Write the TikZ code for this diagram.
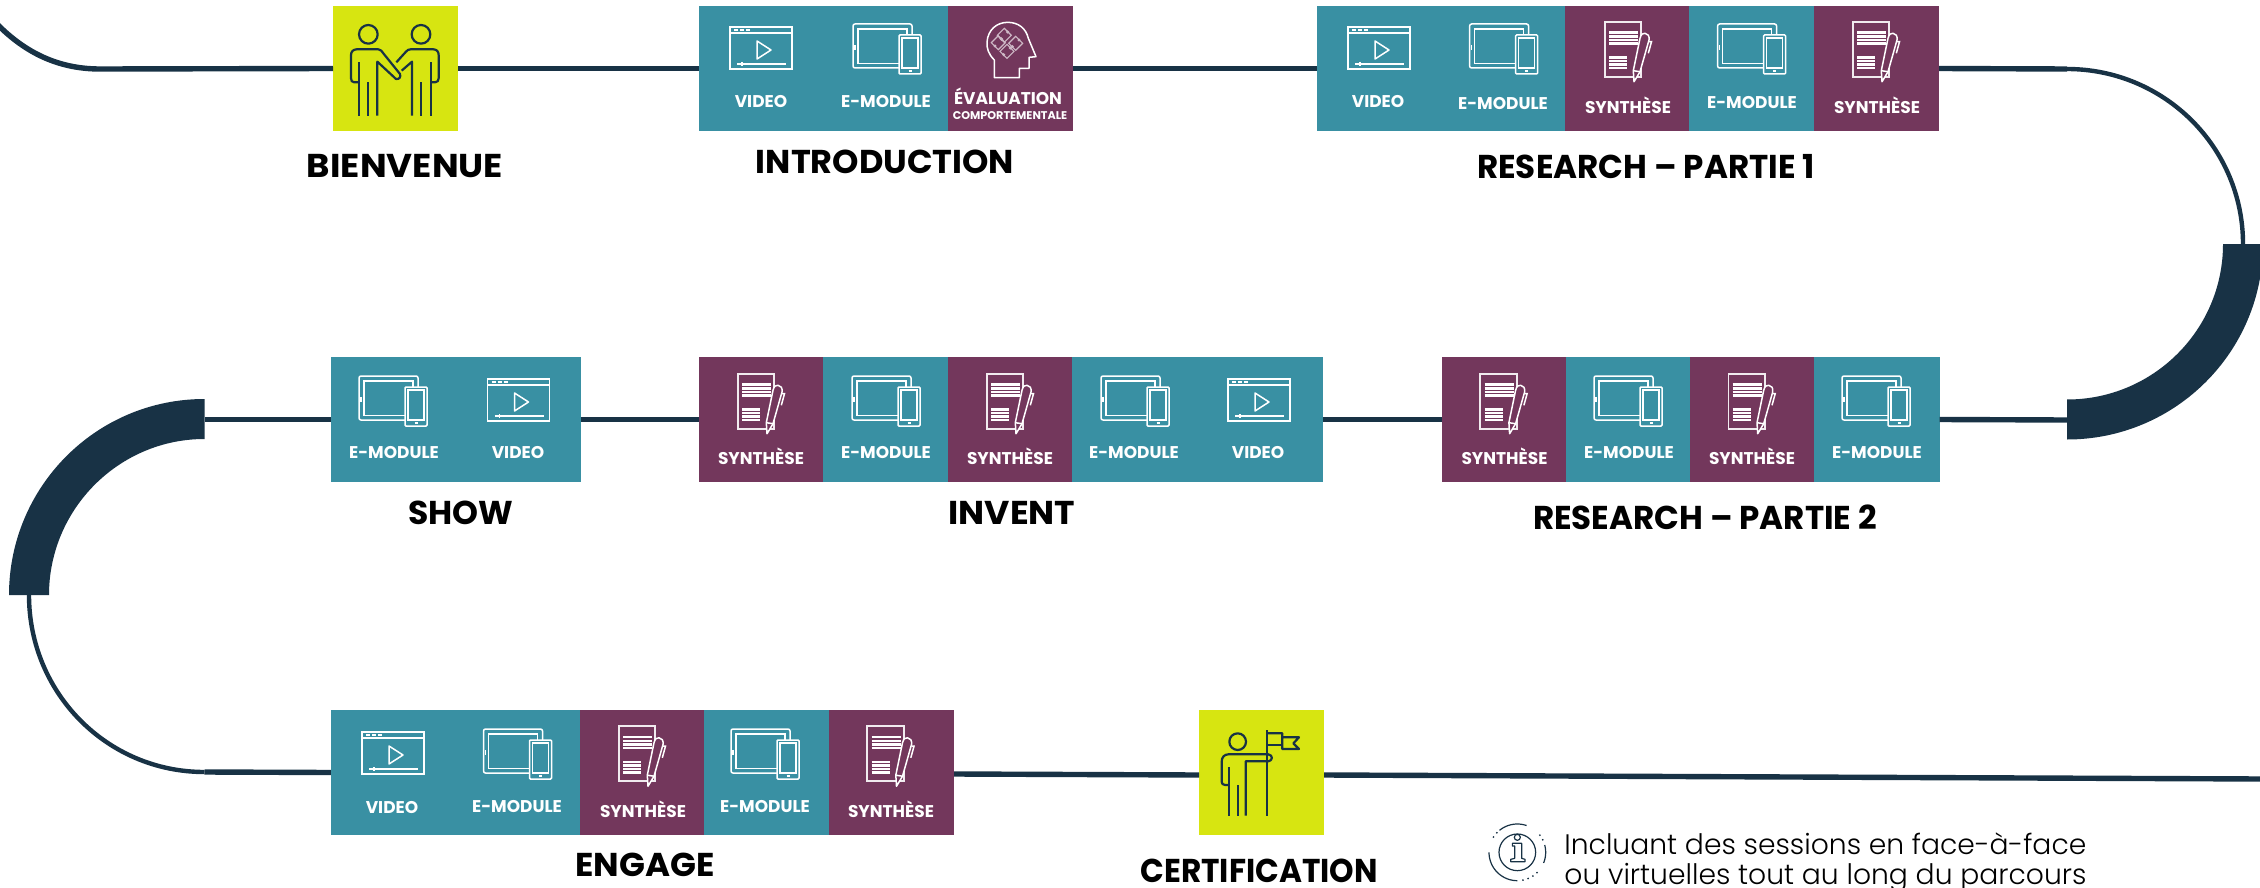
\documentclass[tikz,border=0pt]{standalone}
\usepackage{fontspec}
\setmainfont{Poppins}
\newfontfamily\lightf{Poppins}[UprightFont=* Light]
\newfontfamily\boldf{Poppins}[UprightFont=* Bold]
\definecolor{tealc}{RGB}{57,144,163}
\definecolor{purpc}{RGB}{115,55,92}
\definecolor{limec}{RGB}{215,229,17}
\definecolor{navyc}{RGB}{24,50,69}
\tikzset{
  x=0.5pt,y=-0.5pt,
  cellbase/.style={inner sep=0pt,outer sep=0pt,minimum width=62.7pt,minimum height=62.5pt},
  cellteal/.style={cellbase,fill=tealc},
  cellpurp/.style={cellbase,fill=purpc},
  celllime/.style={cellbase,fill=limec,minimum width=62.5pt},
  trunk/.style={draw=navyc,line width=2.7pt},
  trunkthin/.style={draw=navyc,line width=2.2pt},
  wline/.style={draw=white,line width=0.75pt},
  nline/.style={draw=navyc,line width=1.1pt,line join=round},
  smalllab/.style={text=white,inner sep=0pt,font=\boldf\fontsize{8.5}{10}\selectfont},
  tinylab/.style={text=white,inner sep=0pt,font=\boldf\fontsize{5.6}{7}\selectfont},
  titlelab/.style={text=black,inner sep=0pt,font=\boldf\fontsize{16.5}{20}\selectfont},
  infolab/.style={text=black,inner sep=0pt,anchor=west,font=\lightf\fontsize{14.1}{16}\selectfont},
  vidicon/.pic={
    \draw[wline] (-31,-21) rectangle (31,21);
    \draw[wline] (-31,-15) -- (31,-15);
    \draw[wline,line width=0.6pt] (-27,-18) -- (-23,-18) (-21,-18) -- (-17,-18) (-15,-18) -- (-11,-18);
    \draw[wline,line join=round] (-4,-7) -- (10,2) -- (-4,11) -- cycle;
    \draw[wline] (-24,16) -- (25,16) (-19,14) -- (-19,18);
  },
  modicon/.pic={
    \draw[wline,rounded corners=1pt] (-33,-24) rectangle (26,20);
    \draw[wline] (-28,-19) rectangle (21,15.3);
    \draw[wline] (-31,-3) -- (-31,2);
    \draw[wline,fill=tealc,rounded corners=0.5pt] (13,-13) rectangle (35,26);
    \draw[wline] (16,-10) rectangle (32,20);
    \draw[wline] (22.5,23) -- (25.5,23);
  },
  synicon/.pic={
    \draw[draw=white!90!purpc,line width=0.9pt] (-23.3,-26.3) rectangle (13.3,28.7);
    \foreach \yy in {-15.5,-11.5,-8,-4.5}{\draw[white,line width=1.1pt] (-19,\yy) -- (10,\yy);}
    \foreach \yy in {9.5,13,16.5,20}{\draw[white,line width=1.1pt] (-19,\yy) -- (-1,\yy);}
    \draw[wline,fill=purpc,line join=round] (6,33.7) -- (5.3,22.7) -- (12,-9.7)
      .. controls (13,-14) and (15,-15) .. (17,-14.7)
      .. controls (20,-14.5) and (21.5,-12) .. (21,-8) -- (12,23.7) -- cycle;
    \draw[wline] (5.3,22.7) -- (12,23.7);
    \draw[wline] (21,-6.3) -- (23.5,-6.3) -- (20.3,5.3);
  }
}
\begin{document}
\begin{tikzpicture}
\useasboundingbox (0,0) rectangle (2260,888);
\clip (0,0) rectangle (2260,888);
% cells
\node[celllime] (bv) at (395.5,68.5) {};
\node[cellteal] (ia) at (761.5,68.5) {};
\node[cellteal] (ib) at (886,68.5) {};
\node[cellpurp] (ic) at (1010.5,68.5) {};
\node[cellteal] (ra) at (1379.5,68.5) {};
\node[cellteal] (rb) at (1504,68.5) {};
\node[cellpurp] (rc) at (1628,68.5) {};
\node[cellteal] (rd) at (1752,68.5) {};
\node[cellpurp] (re) at (1876.5,68.5) {};
\node[cellpurp] (sa) at (1504.5,419.5) {};
\node[cellteal] (sb) at (1629,419.5) {};
\node[cellpurp] (sc) at (1753,419.5) {};
\node[cellteal] (sd) at (1877,419.5) {};
\node[cellpurp] (na) at (761.5,419.5) {};
\node[cellteal] (nb) at (885.5,419.5) {};
\node[cellpurp] (nc) at (1010.5,419.5) {};
\node[cellteal] (nd) at (1135,419.5) {};
\node[cellteal] (ne) at (1260,419.5) {};
\node[cellteal] (ha) at (393.5,419.5) {};
\node[cellteal] (hb) at (518.5,419.5) {};
\node[cellteal] (ga) at (393.5,772.5) {};
\node[cellteal] (gb) at (518,772.5) {};
\node[cellpurp] (gc) at (642.5,772.5) {};
\node[cellteal] (gd) at (767,772.5) {};
\node[cellpurp] (ge) at (891.5,772.5) {};
\node[celllime] (ct) at (1261.5,772.5) {};
% trunk
\coordinate (startc) at (-5,22);
\coordinate (curveA) at (100,69);
\coordinate (rtop) at (2067,69);
\coordinate (rthin) at (2243,244);
\coordinate (rbot) at (2067,420);
\coordinate (ltop) at (204.5,419.5);
\coordinate (lthin) at (29,595);
\coordinate (lbot) at (204.5,772);
\coordinate (gout) at (954,774);
\coordinate (cin) at (1199,775);
\coordinate (cout) at (1324,775);
\coordinate (endc) at (2262,779);
\draw[trunk] (startc) .. controls (22,50) and (55,69) .. (curveA) -- (bv.west);
\draw[trunk] (bv.east) -- (ia.west);
\draw[trunk] (ic.east) -- (ra.west);
\draw[trunk] (re.east) -- (rtop);
\draw[trunkthin] (rtop) .. controls (2164,69) and (2243,147) .. (rthin);
\draw[trunk] (sd.east) -- (rbot);
\draw[trunk] (sa.west) -- (ne.east);
\draw[trunk] (na.west) -- (hb.east);
\draw[trunk] (ha.west) -- (ltop);
\draw[trunkthin] (lthin) .. controls (29,693) and (107,772) .. (lbot);
\draw[trunk] (lbot) -- (ga.west);
\draw[trunk] (gout) -- (cin);
\draw[trunk] (cout) -- (endc);
\fill[navyc] (2223,244) .. controls (2223,330) and (2153,399.5) .. (2067,399.5)
  -- (2067,439.5) .. controls (2175,439.5) and (2263,352) .. (2263,244) -- cycle;
\fill[navyc] (49,595) .. controls (49,509) and (119,439) .. (204.5,439)
  -- (204.5,399) .. controls (96,399) and (9,487) .. (9,595) -- cycle;
% icons
\pic at (761,48) {vidicon};
\pic at (1379,48) {vidicon};
\pic at (518.5,400) {vidicon};
\pic at (1259,400) {vidicon};
\pic at (393,753) {vidicon};
\pic at (886,48) {modicon};
\pic at (1502.6,48) {modicon};
\pic at (1750.6,48) {modicon};
\pic at (1627,400) {modicon};
\pic at (1875,400) {modicon};
\pic at (885,400) {modicon};
\pic at (1134,400) {modicon};
\pic at (392,400) {modicon};
\pic at (516.5,753) {modicon};
\pic at (764,753) {modicon};
\pic at (1628,48) {synicon};
\pic at (1876,48) {synicon};
\pic at (1503.6,400) {synicon};
\pic at (1751.7,400) {synicon};
\pic at (761,400) {synicon};
\pic at (1010,400) {synicon};
\pic at (642,752.5) {synicon};
\pic at (890.5,752.5) {synicon};
% brain
\begin{scope}[shift={(965,10)},scale=1/3]
\draw[wline,line join=round] (88,203) -- (88,150)
  .. controls (70,132) and (65,115) .. (66,97)
  .. controls (68,60) and (95,37) .. (128,37)
  .. controls (160,37) and (183,55) .. (190,85)
  -- (213,140) -- (192,142) -- (192,175) -- (163,175) -- (163,203) -- cycle;
\foreach \cx/\cy in {118/76,100/98,126/124,152/100}{
  \draw[white!65!purpc,line width=0.55pt] (\cx,\cy-21) -- (\cx+21,\cy) -- (\cx,\cy+21) -- (\cx-21,\cy) -- cycle;
  \draw[white!65!purpc,line width=0.5pt] (\cx+10,\cy-10) circle (3);
  \draw[white!65!purpc,line width=0.5pt] (\cx-10,\cy+10) circle (3);
}
\end{scope}
% handshake
\begin{scope}[shift={(320,0)},scale=1/3]
\draw[nline] (145,103) circle (28);
\draw[nline] (303,103) circle (28);
\draw[nline] (115,247) -- (103,247) .. controls (96,247) and (93,242) .. (93,235) -- (93,165)
  .. controls (93,155) and (100,148) .. (110,148) -- (175,148) .. controls (182,148) and (186,154) .. (190,160)
  -- (240,222) .. controls (243,232) and (238,238) .. (228,237) -- (172,185) -- (172,347);
\draw[nline] (117,187) -- (117,347) (145,247) -- (145,347);
\draw[nline] (229,187) -- (258,155) .. controls (262,150) and (266,148) .. (272,148) -- (340,148)
  .. controls (350,148) and (356,155) .. (356,165) -- (356,235) .. controls (356,242) and (352,247) .. (345,247) -- (332,247);
\draw[nline] (332,187) -- (332,347) (303,247) -- (303,347);
\draw[nline] (245,212) -- (276,185) -- (276,347);
\end{scope}
% flag person
\begin{scope}[shift={(1190,700)},scale=1/3]
\draw[nline] (143,125) circle (25);
\draw[nline] (117,202) -- (117,347) (143,255) -- (143,347);
\draw[nline] (117,255) -- (105,255) .. controls (98,255) and (95,250) .. (95,245) -- (95,185)
  .. controls (95,172) and (103,163) .. (115,163) -- (235,163) .. controls (249,165) and (249,182) .. (235,184) -- (167,184) -- (167,347);
\draw[nline] (232,90) -- (232,347);
\draw[nline] (232,100) -- (277,100) -- (277,147) -- (327,147) -- (310,130) -- (327,112) -- (277,112);
\draw[nline] (232,135) -- (277,135);
\end{scope}
% info icon
\begin{scope}[shift={(1480,810)},scale=1/3]
\coordinate (ic0) at (112,127);
\draw[draw=navyc,line width=0.6pt] (ic0) circle (55);
\draw[draw=navyc,line width=0.6pt] (112,82) circle (9);
\draw[draw=navyc,line width=0.6pt,line join=round] (97,100) -- (125,100) -- (125,145) -- (135,148) -- (135,155) -- (92,155) -- (92,148) -- (104,145) -- (104,108) -- (97,108) -- cycle;
\draw[draw=navyc,line width=0.6pt] plot[domain=71:129,samples=20] ({112+85*cos(\x)},{127-85*sin(\x)});
\draw[draw=navyc,line width=0.6pt] plot[domain=-22:15,samples=20] ({112+85*cos(\x)},{127-85*sin(\x)});
\draw[draw=navyc,line width=0.6pt] plot[domain=180:270,samples=30] ({112+85*cos(\x)},{127-85*sin(\x)});
\draw[draw=navyc,line width=0.7pt,dotted] plot[domain=25:45,samples=10] ({112+85*cos(\x)},{127-85*sin(\x)});
\draw[draw=navyc,line width=0.7pt,dotted] plot[domain=135:155,samples=10] ({112+85*cos(\x)},{127-85*sin(\x)});
\draw[draw=navyc,line width=0.7pt,dotted] plot[domain=280:320,samples=12] ({112+85*cos(\x)},{127-85*sin(\x)});
\end{scope}
% small labels
\node[smalllab] (t1) at (761,102) {VIDEO};
\node[smalllab] (t2) at (886,102) {E-MODULE};
\node[smalllab] (t3) at (1008,96) {ÉVALUATION};
\node[tinylab] (t4) at (1010,116) {COMPORTEMENTALE};
\node[smalllab] (t5) at (1378,102) {VIDEO};
\node[smalllab] (t6) at (1503,104) {E-MODULE};
\node[smalllab] (t7) at (1628,105) {SYNTHÈSE};
\node[smalllab] (t8) at (1752,103) {E-MODULE};
\node[smalllab] (t9) at (1877,105) {SYNTHÈSE};
\node[smalllab] (u1) at (1504.5,456) {SYNTHÈSE};
\node[smalllab] (u2) at (1629,453) {E-MODULE};
\node[smalllab] (u3) at (1752,456) {SYNTHÈSE};
\node[smalllab] (u4) at (1877,453) {E-MODULE};
\node[smalllab] (u5) at (761,456) {SYNTHÈSE};
\node[smalllab] (u6) at (886,453) {E-MODULE};
\node[smalllab] (u7) at (1010,456) {SYNTHÈSE};
\node[smalllab] (u8) at (1134,453) {E-MODULE};
\node[smalllab] (u9) at (1258,453) {VIDEO};
\node[smalllab] (v1) at (394,453) {E-MODULE};
\node[smalllab] (v2) at (518,453) {VIDEO};
\node[smalllab] (v3) at (392,807) {VIDEO};
\node[smalllab] (v4) at (517,806) {E-MODULE};
\node[smalllab] (v5) at (643,809) {SYNTHÈSE};
\node[smalllab] (v6) at (765,806) {E-MODULE};
\node[smalllab] (v7) at (891,809) {SYNTHÈSE};
% titles
\node[titlelab] (a1) at (405,166) {\scalebox{1.077}[1]{BIENVENUE}};
\node[titlelab] (a2) at (885,162) {\scalebox{1.017}[1]{INTRODUCTION}};
\node[titlelab] (a3) at (1646,167) {\scalebox{0.986}[1]{RESEARCH – PARTIE 1}};
\node[titlelab] (a4) at (1705,517) {\scalebox{0.986}[1]{RESEARCH – PARTIE 2}};
\node[titlelab] (a5) at (461,513) {SHOW};
\node[titlelab] (a6) at (1012,513) {\scalebox{1.05}[1]{INVENT}};
\node[titlelab] (a7) at (645,865) {\scalebox{1.03}[1]{ENGAGE}};
\node[titlelab] (a8) at (1259,871) {\scalebox{0.945}[1]{CERTIFICATION}};
% info
\node[infolab] (b1) at (1564,844) {Incluant des sessions en face-à-face};
\node[infolab] (b2) at (1564,878) {ou virtuelles tout au long du parcours};
\end{tikzpicture}
\end{document}
